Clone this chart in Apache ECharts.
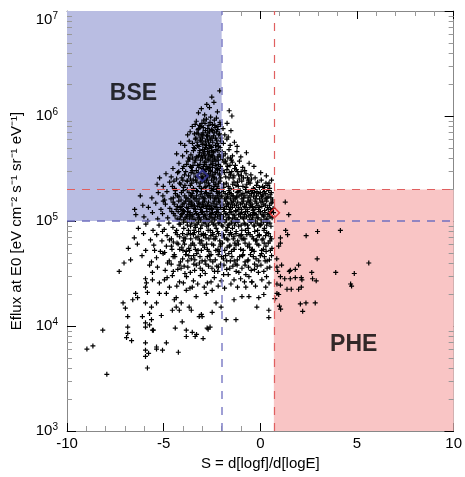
<!DOCTYPE html>
<html><head><meta charset="utf-8">
<script src="https://cdn.jsdelivr.net/npm/echarts@6/dist/echarts.min.js"></script>
<style>html,body{margin:0;padding:0;background:#fff}#c{width:465px;height:477px}</style>
</head><body><div id="c"></div>
<script>
// ---- axes / ticks ----
const xTickValues = [-10, -5, 0, 5, 10];
const yTickExponents = [3, 4, 5, 6, 7];
const yMinorTicks = [2e3,3e3,4e3,5e3,6e3,7e3,8e3,9e3,2e4,3e4,4e4,5e4,6e4,7e4,8e4,9e4,2e5,3e5,4e5,5e5,6e5,7e5,8e5,9e5,2e6,3e6,4e6,5e6,6e6,7e6,8e6,9e6];
const xLabel = 'S = d[logf]/d[logE]';
const yLabel = 'Eflux at E0 [eV cm\u207B\u00B2 s\u207B\u00B9 sr\u207B\u00B9 eV\u207B\u00B9]';

// ---- thresholds / regions ----
const sBse = -2.0, sPhe = 0.7;
const fluxBse = 1e5, fluxPhe = 2e5;
const bseBox = [[-10, 1e5], [-2, 1e7]];
const pheBox = [[0.7, 1e3], [10, 2e5]];
const bseMean = [-3.0, 2.7e5];
const pheMean = [0.73, 1.2e5];
const regionNames = ['BSE', 'PHE'];
const regionLabelPos = [[-6.56, 6.21], [4.83, 3.824]]; // [S, log10 Eflux]

// ---- scatter points: [S, log10(Eflux)] ----
const ptsTop = [[-2.4,6.13],[-3.2,6.03],[-2.1,6.24],[-2.63,6.08],[-2.88,6.01],[-2.22,6.04],[-1.61,6.05],[-1.47,6.0],[-2.77,6.11],[-3.05,6.07],[-2.51,6.18],
[-3.31,5.95],[-3.02,5.93],[-2.79,5.97],[-2.48,5.92],[-2.27,5.98],[-2.09,5.94],[-3.52,5.9],[-2.66,5.91],[-2.93,5.96],[-2.19,5.9],[-1.72,5.93],[-2.57,5.99],[-3.14,5.91],[-2.38,5.96],
[-3.63,5.85],[-3.41,5.83],[-3.19,5.88],[-3.03,5.82],[-2.84,5.86],[-2.71,5.84],[-2.53,5.87],[-2.42,5.81],[-2.26,5.85],[-2.11,5.83],[-1.93,5.88],[-3.12,5.8],[-2.61,5.8],[-3.76,5.82],[-1.84,5.82],[-1.52,5.86],[-2.95,5.89],[-2.34,5.89],[-2.78,5.81],[-3.28,5.84],[-1.66,5.8]];
const ptsColumn = [[-3.91,5.72],[-3.68,5.76],[-3.51,5.74],[-3.36,5.78],[-3.18,5.71],[-3.06,5.76],[-2.92,5.73],[-2.74,5.78],[-2.62,5.72],[-2.46,5.75],[-2.31,5.79],[-2.17,5.71],[-2.04,5.76],[-3.44,5.7],[-2.83,5.7],[-2.52,5.7],[-1.91,5.74],[-1.73,5.78],[-1.56,5.72],[-1.34,5.75],[-4.12,5.74],[-2.99,5.79],[-2.57,5.77],[-2.23,5.74],[-2.68,5.75],[-1.2,5.71],[-3.27,5.75],
[-4.02,5.62],[-3.81,5.66],[-3.59,5.63],[-3.46,5.67],[-3.31,5.61],[-3.14,5.65],[-2.98,5.68],[-2.87,5.62],[-2.73,5.66],[-2.59,5.61],[-2.41,5.65],[-2.29,5.68],[-2.13,5.63],[-1.97,5.66],[-3.72,5.6],[-2.66,5.69],[-2.36,5.6],[-1.81,5.64],[-1.62,5.68],[-1.44,5.62],[-1.21,5.66],[-1.01,5.61],[-4.33,5.64],[-2.91,5.64],[-2.51,5.67],[-2.2,5.61],[-3.05,5.62],[-0.72,5.65],[-1.55,5.6],
[-4.21,5.55],[-3.96,5.52],[-3.74,5.57],[-3.56,5.51],[-3.39,5.56],[-3.24,5.53],[-3.09,5.58],[-2.94,5.52],[-2.81,5.56],[-2.64,5.51],[-2.49,5.57],[-2.33,5.53],[-2.18,5.58],[-2.06,5.52],[-3.66,5.59],[-3.01,5.5],[-2.71,5.59],[-2.14,5.5],[-1.88,5.56],[-1.69,5.52],[-1.49,5.58],[-1.29,5.53],[-1.08,5.57],[-0.91,5.51],[-0.58,5.55],[-4.52,5.5],[-2.88,5.54],[-2.56,5.54],[-2.39,5.59],[-1.96,5.59],[-0.33,5.52],[-1.77,5.55],[-3.48,5.53]];
const ptsColumnDense = [[-3.37,5.92],[-3.22,5.87],[-3.08,5.9],[-2.97,5.84],[-2.86,5.93],[-2.72,5.88],[-2.6,5.94],[-2.47,5.86],[-2.35,5.91],[-2.21,5.87],[-2.07,5.92],
[-3.33,5.79],[-3.21,5.83],[-3.1,5.77],[-2.96,5.82],[-2.84,5.76],[-2.73,5.81],[-2.63,5.85],[-2.5,5.79],[-2.39,5.84],[-2.27,5.77],[-2.15,5.82],[-2.03,5.79],
[-3.4,5.69],[-3.25,5.72],[-3.13,5.67],[-3.0,5.73],[-2.89,5.68],[-2.78,5.72],[-2.69,5.63],[-2.55,5.71],[-2.44,5.66],[-2.32,5.72],[-2.2,5.67],[-2.08,5.7],[-2.47,5.62],[-2.84,5.6],[-3.19,5.62],
[-3.36,5.58],[-3.23,5.61],[-3.12,5.54],[-2.99,5.6],[-2.9,5.56],[-2.77,5.52],[-2.66,5.58],[-2.53,5.62],[-2.45,5.55],[-2.3,5.57],[-2.17,5.54],[-2.04,5.61],[-2.62,5.65],[-2.95,5.65],
[-3.31,5.48],[-3.18,5.51],[-3.07,5.45],[-2.95,5.49],[-2.83,5.44],[-2.7,5.5],[-2.61,5.43],[-2.48,5.51],[-2.35,5.46],[-2.25,5.5],[-2.12,5.45],[-2.01,5.48],[-2.56,5.47],[-2.88,5.47],
[-3.34,5.39],[-3.23,5.42],[-3.11,5.36],[-2.98,5.42],[-2.87,5.37],[-2.74,5.41],[-2.64,5.34],[-2.52,5.39],[-2.39,5.33],[-2.28,5.4],[-2.16,5.36],[-2.05,5.41],[-2.46,5.44],[-2.81,5.33],[-3.05,5.31],[-2.2,5.31],
[-1.92,5.62],[-1.8,5.57],[-1.68,5.6],[-1.57,5.53],[-1.45,5.56],[-1.33,5.5],[-1.86,5.46],[-1.73,5.49],[-1.62,5.41],[-1.48,5.47],[-1.37,5.43],[-1.24,5.49],[-1.12,5.44],[-0.99,5.47],[-0.87,5.41],[-0.74,5.45],[-0.6,5.37],[-0.46,5.4],[-1.9,5.35],[-1.66,5.33],[-1.43,5.35],[-1.18,5.37],[-0.9,5.33],[-0.7,5.35],[-0.2,5.34],[0.05,5.39],[0.22,5.32],[0.45,5.36],
[-4.55,5.33],[-4.33,5.4],[-4.12,5.35],[-3.92,5.44],[-3.77,5.38],[-3.58,5.46],[-3.47,5.39],[-4.02,5.5],[-3.81,5.54],[-3.62,5.52],[-3.5,5.6],[-4.22,5.47],[-3.9,5.34]];
const ptsUpperCore = [[-4.61,5.42],[-4.28,5.46],[-4.06,5.41],[-3.86,5.47],[-3.71,5.43],[-3.52,5.48],[-3.34,5.42],[-3.21,5.46],[-3.04,5.41],[-2.91,5.47],[-2.76,5.43],[-2.58,5.48],[-2.44,5.42],[-2.31,5.46],[-2.11,5.44],[-3.61,5.4],[-2.96,5.4],[-2.22,5.49],[-1.94,5.48],[-1.79,5.42],[-1.61,5.46],[-1.41,5.41],[-1.19,5.47],[-0.98,5.43],[-0.81,5.48],[-0.49,5.44],[-0.27,5.41],[0.02,5.46],[-4.88,5.45],[-2.67,5.45],[-2.82,5.49],[-2.38,5.41],[-1.54,5.44],[-1.09,5.4],[-0.66,5.41],[0.31,5.43],[-3.43,5.45],[-5.21,5.41],
[-5.02,5.33],[-4.69,5.37],[-4.44,5.31],[-4.18,5.36],[-3.97,5.32],[-3.79,5.38],[-3.62,5.34],[-3.46,5.31],[-3.29,5.37],[-3.16,5.33],[-3.01,5.38],[-2.86,5.32],[-2.69,5.36],[-2.54,5.31],[-2.41,5.37],[-2.24,5.33],[-2.09,5.38],[-1.89,5.32],[-1.76,5.36],[-1.57,5.31],[-1.36,5.37],[-1.14,5.33],[-0.96,5.38],[-0.74,5.32],[-0.53,5.36],[-0.36,5.31],[-0.14,5.37],[0.12,5.33],[0.29,5.36],[0.48,5.31],[-5.34,5.35],[-4.01,5.39],[-1.99,5.3],[0.58,5.39],[-2.78,5.39],[-2.33,5.35],[-1.26,5.34],[-0.62,5.39],[0.39,5.34],[-3.55,5.36],[-4.47,5.38],[-0.05,5.32]];
const ptsCore = [[-5.61,5.22],[-5.28,5.27],[-5.04,5.24],[-4.83,5.28],[-4.62,5.21],[-4.39,5.26],[-4.21,5.23],[-3.99,5.29],[-3.84,5.22],[-3.69,5.27],[-3.56,5.24],[-3.38,5.21],[-3.26,5.28],[-3.11,5.25],[-2.93,5.22],[-2.79,5.27],[-2.66,5.24],[-2.51,5.29],[-2.36,5.21],[-2.19,5.26],[-2.03,5.23],[-1.91,5.28],[-1.74,5.22],[-1.59,5.27],[-1.46,5.24],[-1.31,5.21],[-1.16,5.28],[-0.99,5.25],[-0.86,5.22],[-0.69,5.27],[-0.54,5.24],[-0.41,5.29],[-0.23,5.21],[-0.11,5.26],[0.06,5.23],[0.21,5.28],[0.34,5.22],[0.51,5.25],[0.63,5.2],[-6.21,5.24],[-4.95,5.2],[-3.47,5.29],[-2.23,5.24],[-1.22,5.23],[0.14,5.25],[-2.87,5.26],[-1.68,5.25],[-0.31,5.27],
[-5.79,5.13],[-5.41,5.17],[-5.14,5.11],[-4.91,5.16],[-4.68,5.12],[-4.51,5.18],[-4.29,5.14],[-4.11,5.11],[-3.94,5.17],[-3.81,5.13],[-3.64,5.19],[-3.49,5.15],[-3.36,5.11],[-3.19,5.17],[-3.06,5.13],[-2.89,5.19],[-2.74,5.15],[-2.61,5.11],[-2.44,5.17],[-2.29,5.13],[-2.16,5.19],[-1.98,5.15],[-1.86,5.11],[-1.69,5.17],[-1.54,5.13],[-1.39,5.19],[-1.24,5.15],[-1.11,5.11],[-0.94,5.17],[-0.79,5.13],[-0.64,5.19],[-0.51,5.15],[-0.34,5.11],[-0.19,5.17],[-0.06,5.13],[0.11,5.19],[0.26,5.15],[0.41,5.11],[0.56,5.17],[-6.08,5.15],[-5.02,5.19],[-3.57,5.16],[-2.52,5.12],[-1.46,5.16],[-0.41,5.14],[0.66,5.12],[-6.5,5.11],[-4.05,5.14],[-2.98,5.16],[-1.77,5.14],
[-6.02,5.04],[-5.58,5.08],[-5.31,5.02],[-5.06,5.07],[-4.79,5.03],[-4.58,5.09],[-4.41,5.05],[-4.19,5.01],[-4.04,5.07],[-3.89,5.03],[-3.76,5.09],[-3.59,5.05],[-3.44,5.01],[-3.31,5.07],[-3.14,5.03],[-2.99,5.09],[-2.84,5.05],[-2.71,5.01],[-2.54,5.07],[-2.39,5.03],[-2.26,5.09],[-2.08,5.05],[-1.96,5.01],[-1.79,5.07],[-1.64,5.03],[-1.51,5.09],[-1.34,5.05],[-1.21,5.01],[-1.04,5.07],[-0.89,5.03],[-0.76,5.09],[-0.59,5.05],[-0.44,5.01],[-0.29,5.07],[-0.16,5.03],[0.01,5.09],[0.16,5.05],[0.31,5.01],[0.46,5.07],[0.61,5.03],[-6.44,5.06],[-5.82,5.0],[-3.68,5.06],[-2.6,5.04],[-1.43,5.02],[-0.38,5.05],[0.68,5.08]];
const ptsCoreDense = [[-4.4,5.29],[-4.08,5.27],[-3.78,5.3],[-3.52,5.26],[-3.3,5.29],[-3.05,5.28],[-2.83,5.3],[-2.6,5.26],[-2.42,5.3],[-2.27,5.28],[-2.12,5.27],[-1.96,5.3],[-1.82,5.26],[-1.63,5.29],[-1.51,5.26],[-1.38,5.3],[-1.2,5.27],[-1.05,5.29],[-0.9,5.26],[-0.77,5.3],[-0.6,5.28],[-0.46,5.26],[-0.3,5.3],[-0.17,5.28],[0.0,5.27],[0.16,5.3],[0.28,5.26],[0.43,5.29],[0.57,5.27],
[-4.5,5.22],[-4.29,5.24],[-4.1,5.2],[-3.91,5.24],[-3.74,5.21],[-3.6,5.24],[-3.44,5.22],[-3.3,5.24],[-3.17,5.21],[-3.01,5.23],[-2.87,5.21],[-2.72,5.24],[-2.58,5.22],[-2.45,5.24],[-2.3,5.22],[-2.15,5.21],[-1.99,5.24],[-1.85,5.21],[-1.7,5.23],[-1.55,5.21],[-1.4,5.24],[-1.26,5.22],[-1.1,5.24],[-0.95,5.21],[-0.8,5.24],[-0.63,5.22],[-0.5,5.2],[-0.35,5.23],[-0.2,5.24],[-0.04,5.21],[0.1,5.24],[0.25,5.21],[0.4,5.23],[0.55,5.22],
[-4.45,5.16],[-4.22,5.19],[-4.01,5.16],[-3.86,5.19],[-3.7,5.16],[-3.55,5.18],[-3.41,5.15],[-3.28,5.19],[-3.13,5.16],[-2.97,5.18],[-2.82,5.15],[-2.68,5.18],[-2.55,5.15],[-2.39,5.19],[-2.25,5.16],[-2.1,5.18],[-1.94,5.16],[-1.79,5.19],[-1.64,5.16],[-1.48,5.18],[-1.33,5.15],[-1.17,5.18],[-1.03,5.16],[-0.88,5.19],[-0.72,5.16],[-0.57,5.18],[-0.43,5.16],[-0.27,5.19],[-0.12,5.15],[0.03,5.18],[0.18,5.16],[0.33,5.19],[0.48,5.15],[0.62,5.18],
[-4.35,5.11],[-4.15,5.13],[-3.98,5.1],[-3.74,5.12],[-3.58,5.14],[-3.43,5.12],[-3.24,5.14],[-3.1,5.11],[-2.94,5.14],[-2.79,5.12],[-2.65,5.14],[-2.49,5.11],[-2.35,5.14],[-2.2,5.11],[-2.06,5.13],[-1.9,5.11],[-1.74,5.14],[-1.6,5.11],[-1.44,5.13],[-1.28,5.1],[-1.14,5.13],[-0.98,5.11],[-0.83,5.14],[-0.68,5.11],[-0.54,5.13],[-0.38,5.1],[-0.23,5.13],[-0.09,5.11],[0.08,5.14],[0.22,5.1],[0.37,5.13],[0.52,5.11],
[-4.48,5.07],[-4.25,5.09],[-4.08,5.06],[-3.93,5.09],[-3.78,5.06],[-3.63,5.08],[-3.49,5.06],[-3.35,5.09],[-3.2,5.06],[-3.05,5.08],[-2.9,5.06],[-2.76,5.09],[-2.62,5.06],[-2.47,5.08],[-2.32,5.06],[-2.18,5.08],[-2.03,5.06],[-1.87,5.09],[-1.72,5.06],[-1.57,5.08],[-1.41,5.06],[-1.26,5.09],[-1.12,5.06],[-0.96,5.08],[-0.81,5.06],[-0.66,5.09],[-0.51,5.06],[-0.36,5.08],[-0.21,5.06],[-0.07,5.09],[0.09,5.06],[0.24,5.08],[0.39,5.06],[0.54,5.09],
[-4.3,5.02],[-4.12,5.04],[-3.96,5.01],[-3.81,5.04],[-3.66,5.02],[-3.52,5.04],[-3.38,5.01],[-3.23,5.03],[-3.08,5.01],[-2.93,5.04],[-2.79,5.02],[-2.64,5.0],[-2.5,5.03],[-2.36,5.01],[-2.21,5.04],[-2.06,5.02],[-1.91,5.04],[-1.76,5.01],[-1.61,5.03],[-1.46,5.0],[-1.31,5.03],[-1.17,5.01],[-1.02,5.04],[-0.86,5.02],[-0.71,5.04],[-0.56,5.01],[-0.41,5.03],[-0.26,5.0],[-0.11,5.03],[0.04,5.01],[0.19,5.04],[0.34,5.02],[0.5,5.04],
[-4.2,4.97],[-3.97,4.99],[-3.77,4.96],[-3.55,4.98],[-3.38,4.96],[-3.2,4.99],[-3.02,4.96],[-2.85,4.98],[-2.68,4.96],[-2.5,4.99],[-2.34,4.96],[-2.17,4.98],[-2.0,4.96],[-1.83,4.99],[-1.66,4.96],[-1.5,4.98],[-1.33,4.96],[-1.16,4.99],[-0.99,4.96],[-0.83,4.98],[-0.66,4.96],[-0.49,4.99],[-0.33,4.96],[-0.16,4.98],[0.01,4.96],[0.17,4.99],[0.33,4.96],[0.49,4.98],
[-4.02,4.88],[-3.72,4.91],[-3.46,4.87],[-3.19,4.9],[-2.94,4.86],[-2.7,4.91],[-2.45,4.87],[-2.21,4.9],[-1.97,4.86],[-1.73,4.91],[-1.49,4.87],[-1.25,4.9],[-1.01,4.86],[-0.77,4.91],[-0.53,4.87],[-0.29,4.9],[-0.05,4.86],[0.19,4.91],[0.43,4.88]];
const ptsMid = [[-6.31,4.93],[-5.92,4.97],[-5.55,4.91],[-5.24,4.96],[-4.97,4.92],[-4.73,4.98],[-4.52,4.94],[-4.33,4.91],[-4.14,4.97],[-3.96,4.93],[-3.78,4.99],[-3.61,4.95],[-3.43,4.91],[-3.27,4.97],[-3.09,4.93],[-2.92,4.99],[-2.77,4.95],[-2.59,4.91],[-2.43,4.97],[-2.28,4.93],[-2.11,4.99],[-1.94,4.95],[-1.78,4.91],[-1.61,4.97],[-1.44,4.93],[-1.28,4.99],[-1.12,4.95],[-0.96,4.91],[-0.79,4.97],[-0.63,4.93],[-0.47,4.99],[-0.31,4.95],[-0.14,4.91],[0.04,4.97],[0.21,4.93],[0.38,4.99],[0.55,4.95],[-5.06,4.9],[-3.35,4.94],[-1.69,4.94],[-0.06,4.96],
[-6.52,4.84],[-6.04,4.88],[-5.68,4.82],[-5.36,4.87],[-5.09,4.81],[-4.82,4.86],[-4.6,4.83],[-4.38,4.89],[-4.17,4.85],[-3.98,4.81],[-3.79,4.87],[-3.6,4.83],[-3.41,4.89],[-3.22,4.85],[-3.03,4.81],[-2.84,4.87],[-2.66,4.83],[-2.47,4.89],[-2.29,4.85],[-2.1,4.81],[-1.91,4.87],[-1.73,4.83],[-1.54,4.89],[-1.36,4.85],[-1.17,4.81],[-0.98,4.87],[-0.8,4.83],[-0.61,4.89],[-0.42,4.85],[-0.24,4.81],[-0.05,4.87],[0.14,4.83],[0.33,4.89],[0.52,4.85],[-4.5,4.8],[-2.95,4.88],[-1.26,4.88],
[-6.83,4.74],[-6.36,4.78],[-5.93,4.72],[-5.51,4.77],[-5.17,4.71],[-4.86,4.76],[-4.57,4.73],[-4.31,4.79],[-4.06,4.75],[-3.83,4.71],[-3.59,4.77],[-3.36,4.73],[-3.12,4.79],[-2.89,4.75],[-2.66,4.71],[-2.42,4.77],[-2.19,4.73],[-1.96,4.79],[-1.72,4.75],[-1.49,4.71],[-1.26,4.77],[-1.02,4.73],[-0.79,4.79],[-0.55,4.75],[-0.32,4.71],[-0.08,4.77],[0.16,4.73],[0.41,4.79],[0.6,4.74],[-5.47,4.72],[-3.7,4.74],[-1.6,4.76],
[-6.71,4.63],[-6.12,4.67],[-5.63,4.61],[-5.37,4.65],[-5.03,4.69],[-4.71,4.62],[-4.42,4.66],[-4.13,4.61],[-3.86,4.68],[-3.57,4.64],[-3.29,4.69],[-3.01,4.62],[-2.74,4.66],[-2.46,4.61],[-2.18,4.68],[-1.91,4.64],[-1.63,4.69],[-1.35,4.62],[-1.07,4.66],[-0.79,4.61],[-0.51,4.68],[-0.22,4.64],[0.06,4.69],[0.35,4.62],[0.58,4.67],[-7.05,4.6],
[-5.73,4.58],[-5.32,4.56],[-5.58,4.51],[-4.92,4.53],[-4.61,4.59],[-4.27,4.54],[-3.94,4.57],[-3.62,4.51],[-3.31,4.58],[-2.99,4.53],[-2.68,4.57],[-2.37,4.52],[-2.05,4.59],[-1.74,4.54],[-1.42,4.57],[-1.11,4.51],[-0.79,4.58],[-0.47,4.53],[-0.16,4.57],[0.18,4.52],[0.49,4.56],[-7.3,4.52],
[-5.94,4.45],[-5.58,4.44],[-5.22,4.41],[-4.96,4.44],[-4.55,4.48],[-4.18,4.42],[-3.82,4.47],[-3.46,4.43],[-3.1,4.48],[-2.74,4.41],[-2.38,4.46],[-2.02,4.43],[-1.66,4.49],[-1.36,4.44],[-0.59,4.47],[-0.44,4.42],[0.08,4.44],[-1.02,4.45],[0.45,4.41]];
const ptsMidExtra = [[-4.7,4.82],[-4.25,4.78],[-3.88,4.83],[-3.5,4.79],[-3.15,4.82],[-2.78,4.78],[-2.4,4.83],[-2.05,4.78],[-1.68,4.82],[-1.32,4.79],[-0.95,4.83],[-0.58,4.78],[-0.2,4.82],[0.2,4.79],[0.5,4.81],
[-4.95,4.7],[-4.45,4.68],[-4.0,4.72],[-3.45,4.67],[-3.05,4.72],[-2.55,4.68],[-2.12,4.71],[-1.8,4.67],[-1.35,4.73],[-0.9,4.68],[-0.45,4.72],[0.0,4.67],[0.3,4.71],
[-4.8,4.6],[-4.2,4.58],[-3.75,4.62],[-3.15,4.6],[-2.6,4.63],[-2.25,4.57],[-1.55,4.62],[-1.2,4.58],[-0.65,4.62],[-0.3,4.59],[0.25,4.62],
[-4.5,4.52],[-3.9,4.5],[-3.4,4.53],[-2.85,4.5],[-2.2,4.52],[-1.9,4.49],[-1.25,4.52],[-0.75,4.49],[-0.1,4.51]];
const ptsMidDense = [[-4.3,4.87],[-3.95,4.84],[-3.62,4.88],[-3.33,4.84],[-3.06,4.87],[-2.81,4.84],[-2.56,4.86],[-2.33,4.83],[-2.16,4.88],[-1.86,4.84],[-1.61,4.87],[-1.4,4.83],[-1.1,4.86],[-0.88,4.83],[-0.7,4.87],[-0.36,4.83],[-0.13,4.86],[0.09,4.82],[0.27,4.86],[0.57,4.83],
[-4.6,4.76],[-4.17,4.73],[-3.92,4.78],[-3.66,4.72],[-3.42,4.77],[-3.22,4.72],[-2.97,4.77],[-2.74,4.73],[-2.51,4.78],[-2.3,4.72],[-2.07,4.76],[-1.84,4.72],[-1.57,4.77],[-1.36,4.73],[-1.13,4.78],[-0.88,4.72],[-0.66,4.76],[-0.41,4.73],[-0.17,4.78],[0.07,4.72],[0.29,4.76],[0.52,4.72],
[-4.51,4.66],[-4.02,4.64],[-3.7,4.67],[-3.39,4.63],[-3.12,4.66],[-2.86,4.62],[-2.62,4.67],[-2.33,4.63],[-2.0,4.66],[-1.74,4.62],[-1.47,4.66],[-1.19,4.63],[-0.92,4.67],[-0.63,4.63],[-0.36,4.66],[-0.08,4.62],[0.21,4.66],[0.47,4.63],
[-4.1,4.55],[-3.75,4.56],[-3.44,4.59],[-3.11,4.55],[-2.82,4.59],[-2.5,4.55],[-2.17,4.56],[-1.88,4.58],[-1.58,4.55],[-1.27,4.59],[-0.95,4.55],[-0.61,4.56],[-0.3,4.54],[0.03,4.58],[0.35,4.55],
[-4.82,4.46],[-4.32,4.38],[-3.98,4.41],[-3.64,4.36],[-3.24,4.4],[-2.9,4.37],[-2.55,4.42],[-2.18,4.38],[-1.85,4.36],[-1.52,4.4],[-1.18,4.37],[-0.82,4.42],[-0.25,4.38],[0.32,4.47]];
const ptsLow = [[-5.89,4.41],[-5.84,4.32],[-5.94,4.37],[-6.45,4.31],[-6.35,4.27],[-6.6,4.25],[-7.1,4.22],[-6.98,4.17],[-6.86,4.09],[-5.94,4.22],[-5.73,4.12],[-5.63,4.06],[-5.53,3.96],[-5.37,4.22],[-5.22,4.31],[-5.12,4.1],[-4.86,3.84],[-5.06,3.77],[-5.37,3.8],[-4.24,3.75],[-4.4,3.98],[-4.04,4.04],[-3.83,3.96],[-3.52,3.94],[-3.37,3.9],[-2.96,3.88],[-2.7,3.97],[-3.16,4.09],[-3.05,4.11],[-2.49,4.13],[-4.55,4.15],[-4.35,4.18],[-4.09,4.22],[-3.57,4.15],[-3.32,4.28],[-2.8,4.31],[-2.49,4.34],[-3.52,4.37],[-3.83,4.34],[-4.35,4.27],[-4.7,4.37],[-4.86,4.31],[-5.63,4.18],
[-8.97,3.78],[-8.66,3.81],[-8.15,3.96],[-7.94,3.54],[-6.86,3.99],[-6.86,3.93],[-6.92,3.89],[-6.66,3.86],[-5.94,4.03],[-5.94,3.99],[-5.73,4.01],[-5.58,3.96],[-5.94,3.84],[-5.94,3.77],[-5.94,3.71],[-5.78,3.74],[-5.84,3.6],[-5.37,3.78],
[-2.29,4.22],[-2.03,4.18],[-1.77,4.06],[-1.26,4.06],[-1.36,4.25],[-0.95,4.28],[-0.59,4.28],[-0.18,4.18],[-0.08,4.27],[0.18,4.3],[0.44,4.15],[0.44,4.08],[-0.75,4.37],[-0.44,4.42],[0.28,4.37],[-4.19,4.15],[-3.68,4.18],[-3.01,4.09],[-2.75,3.98],[-3.83,3.9],[-3.3,3.92],[-2.6,3.99],[-4.45,4.25],[-6.1,4.09]];
const ptsPhe = [[1.29,5.18],[1.47,5.06],[1.31,4.91],[1.41,4.87],[2.96,4.9],[4.14,4.91],[2.37,4.86],[1.04,4.84],[1.04,4.79],[0.95,4.76],[0.85,4.64],[2.94,4.64],[5.61,4.6],[1.98,4.58],[1.81,4.54],[1.55,4.53],[1.5,4.52],[1.1,4.58],[0.86,4.56],[0.9,4.52],[1.04,4.47],[1.26,4.45],[1.55,4.45],[1.81,4.46],[2.12,4.46],[2.15,4.44],[2.66,4.51],[2.7,4.45],[2.89,4.43],[3.9,4.51],[4.86,4.5],[4.67,4.4],[4.72,4.38],[0.86,4.4],[1.04,4.39],[1.38,4.35],[1.6,4.35],[1.98,4.35],[2.12,4.37],[0.86,4.31],[0.95,4.3],[0.75,4.26],[2.07,4.21],[2.36,4.22],[2.84,4.22],[0.99,4.19],[1.05,4.16],[2.19,4.14]];

const allPoints = [].concat(ptsTop, ptsColumn, ptsColumnDense, ptsUpperCore, ptsCore, ptsCoreDense, ptsMid, ptsMidExtra, ptsMidDense, ptsLow, ptsPhe)
  .map(p => [p[0], Math.pow(10, p[1])]);

const FONT = "'Liberation Sans', Arial, Helvetica, sans-serif";
const chart = echarts.init(document.getElementById('c'), null, {renderer: 'canvas'});
const plus = 'path://M1.9,0H3.1V1.9H5V3.1H3.1V5H1.9V3.1H0V1.9H1.9Z';

const commonX = {
  type: 'value', min: -10, max: 10, interval: 5,
  axisLine: {show: true, onZero: false, lineStyle: {color: '#888', width: 1}},
  axisTick: {show: true, inside: true, length: 8, lineStyle: {color: '#000', width: 1}},
  minorTick: {show: true, splitNumber: 5, length: 5, lineStyle: {color: '#999', width: 1}},
  splitLine: {show: false}, minorSplitLine: {show: false}
};
const commonY = {
  type: 'log', logBase: 10, min: 1e3, max: 1e7,
  axisLine: {show: true, onZero: false, lineStyle: {color: '#888', width: 1}},
  axisTick: {show: true, inside: true, length: 9, lineStyle: {color: '#000', width: 1}},
  splitLine: {show: false}
};

chart.setOption({
  animation: false,
  backgroundColor: '#fff',
  grid: {left: 67, top: 11, width: 389, height: 420, containLabel: false},
  xAxis: [
    Object.assign({}, commonX, {
      position: 'bottom',
      axisLabel: {show: true, margin: 5, fontSize: 15, color: '#000', fontFamily: FONT,
        formatter: v => xTickValues.indexOf(v) >= 0 ? String(v) : ''},
      name: xLabel, nameLocation: 'middle', nameGap: 25,
      nameTextStyle: {fontSize: 15, color: '#000', fontFamily: FONT}
    }),
    Object.assign({}, commonX, {position: 'top', axisLabel: {show: false}})
  ],
  yAxis: [
    Object.assign({}, commonY, {
      position: 'left',
      axisLabel: {show: true, margin: 9, fontFamily: FONT,
        verticalAlignMinLabel: 'bottom', verticalAlignMaxLabel: 'top',
        formatter: v => {
          const e = Math.round(Math.log10(v));
          return yTickExponents.indexOf(e) >= 0 ? '{b|10}{e|' + e + '}' : '';
        },
        rich: {
          b: {fontSize: 15, color: '#000', fontFamily: FONT, lineHeight: 18},
          e: {fontSize: 10, color: '#000', fontFamily: FONT, lineHeight: 8, verticalAlign: 'top'}
        }
      },
      name: yLabel, nameLocation: 'middle', nameGap: 30,
      nameTextStyle: {fontSize: 15, color: '#000', fontFamily: FONT}
    }),
    Object.assign({}, commonY, {position: 'right', axisLabel: {show: false}})
  ],
  series: [
    {
      type: 'scatter', name: 'regions', data: [], z: 1, silent: true,
      markArea: {
        silent: true,
        data: [
          [{coord: bseBox[0], itemStyle: {color: '#b9bde2'}}, {coord: bseBox[1]}],
          [{coord: pheBox[0], itemStyle: {color: '#f9c5c5'}}, {coord: pheBox[1]}]
        ]
      },
      markLine: {
        silent: true, symbol: 'none', label: {show: false}, animation: false,
        data: [
          {xAxis: sBse, lineStyle: {color: '#8080c8', type: [8, 8], width: 1.5}},
          {xAxis: sPhe, lineStyle: {color: '#e06060', type: [8, 8], width: 1.2}},
          {yAxis: fluxBse, lineStyle: {color: '#7070c0', type: [8, 7], width: 1.5}},
          {yAxis: fluxPhe, lineStyle: {color: '#e06060', type: [8, 7], width: 1.2}}
        ]
      }
    },
    {
      type: 'custom', name: 'minorTicks', z: 2, silent: true,
      data: yMinorTicks.map(v => [-10, v]),
      encode: {x: 0, y: 1},
      renderItem: (params, api) => {
        const pt = api.coord([-10, api.value(1)]);
        const cs = params.coordSys;
        const y = Math.round(pt[1]) + 0.5;
        return {type: 'group', children: [
          {type: 'line', shape: {x1: cs.x, y1: y, x2: cs.x + 5, y2: y}, style: {stroke: '#999', lineWidth: 1}},
          {type: 'line', shape: {x1: cs.x + cs.width - 5, y1: y, x2: cs.x + cs.width, y2: y}, style: {stroke: '#999', lineWidth: 1}}
        ]};
      }
    },
    {
      type: 'scatter', name: 'points', z: 3, silent: true,
      data: allPoints, symbol: plus, symbolSize: 5,
      itemStyle: {color: '#000', opacity: 1}
    },
    {
      type: 'scatter', name: 'means', z: 4, silent: true,
      data: [
        {value: bseMean, symbolSize: 11, itemStyle: {color: 'rgba(0,0,0,0)', borderColor: '#3a3aa0', borderWidth: 2}},
        {value: pheMean, symbolSize: 10, itemStyle: {color: 'rgba(0,0,0,0)', borderColor: '#e02020', borderWidth: 1.5}}
      ],
      symbol: 'diamond'
    },
    {
      type: 'scatter', name: 'regionLabels', z: 5, silent: true,
      data: regionNames.map((n, i) => ({name: n, value: [regionLabelPos[i][0], Math.pow(10, regionLabelPos[i][1])]})),
      symbolSize: 1, itemStyle: {color: 'rgba(0,0,0,0)'},
      label: {show: true, position: 'inside', formatter: p => p.name, fontSize: 23, fontWeight: 'bold', color: '#000', fontFamily: FONT}
    }
  ]
});
</script>
</body></html>
